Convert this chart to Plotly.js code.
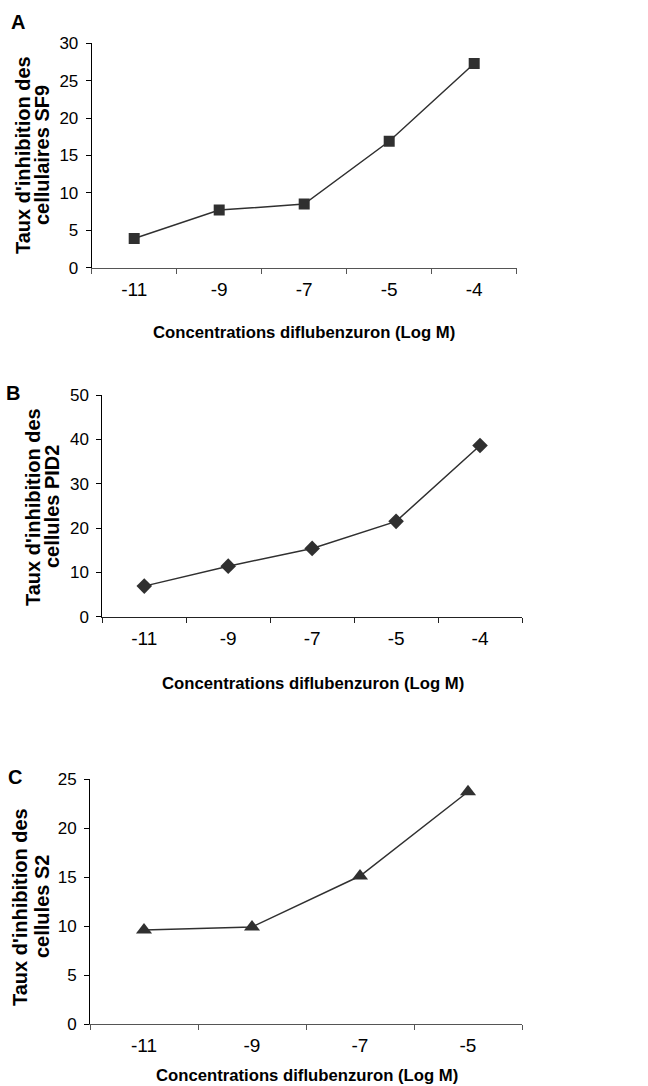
<!DOCTYPE html>
<html>
<head>
<meta charset="utf-8">
<script src="https://cdn.plot.ly/plotly-3.0.1.min.js"></script>
<style>html,body{margin:0;padding:0;background:#fff;}#chart{width:648px;height:1086px;}</style>
</head>
<body>
<div id="chart"></div>
<script>
// ---- data ----
const categoriesAB = ['-11', '-9', '-7', '-5', '-4'];
const categoriesC = ['-11', '-9', '-7', '-5'];
const valuesA = [3.9, 7.7, 8.5, 16.9, 27.3];   // SF9
const valuesB = [6.9, 11.4, 15.4, 21.5, 38.6]; // PID2
const valuesC = [9.6, 9.9, 15.1, 23.7];        // S2
const panelLabels = ['A', 'B', 'C'];
const yTitlesLine1 = ["Taux d'inhibition des", "Taux d'inhibition des", "Taux d'inhibition des"];
const yTitlesLine2 = ['cellulaires SF9', 'cellules PID2', 'cellules S2'];
const xTitle = 'Concentrations diflubenzuron (Log M)';

const W = 648, H = 1086;
const px = v => v / W;
const py = v => 1 - v / H;

const sans = 'Liberation Sans, Arial, sans-serif';
const lineCol = '#303030';

function trace(x, y, sym, size, xa, ya) {
  return {
    x: x, y: y, type: 'scatter', mode: 'lines+markers',
    xaxis: xa, yaxis: ya,
    line: {color: lineCol, width: 1.5},
    marker: {symbol: sym, size: size, color: lineCol},
    showlegend: false, hoverinfo: 'x+y'
  };
}

const data = [
  trace(categoriesAB, valuesA, 'square', 11, 'x', 'y'),
  trace(categoriesAB, valuesB, 'diamond', 12, 'x2', 'y2'),
  trace(categoriesC, valuesC, 'triangle-up', 14, 'x3', 'y3')
];

function xaxis(domain, n, anchor, col) {
  return {
    domain: domain, anchor: anchor, type: 'category',
    range: [-0.5, n - 0.5], tickson: 'boundaries',
    showline: true, linecolor: col, linewidth: 1,
    ticks: 'outside', ticklen: 5, tickcolor: col, tickwidth: 1,
    showgrid: false, zeroline: false, fixedrange: true,
    ticklabelstandoff: 4,
    tickfont: {family: sans, size: 19, color: '#000'}
  };
}
function yaxis(domain, max, dtick, anchor) {
  return {
    domain: domain, anchor: anchor, range: [0, max], dtick: dtick,
    showline: true, linecolor: '#000', linewidth: 1,
    ticks: 'outside', ticklen: 5, tickcolor: '#000',
    showgrid: false, zeroline: false, fixedrange: true,
    ticklabelstandoff: 4,
    tickfont: {family: sans, size: 17, color: '#000'}
  };
}

const ann = [];
// panel letters
[[18, 22], [13, 393], [15, 777]].forEach((p, i) => {
  ann.push({text: '<b>' + panelLabels[i] + '</b>', x: px(p[0]), y: py(p[1]), xref: 'paper', yref: 'paper',
    showarrow: false, xanchor: 'center', yanchor: 'middle', font: {family: sans, size: 20, color: '#000'}});
});
// x titles
[[304, 333], [313, 683], [307, 1075]].forEach(p => {
  ann.push({text: '<b>' + xTitle + '</b>', x: px(p[0]), y: py(p[1]), xref: 'paper', yref: 'paper',
    showarrow: false, xanchor: 'center', yanchor: 'middle', font: {family: sans, size: 16.7, color: '#000'}});
});
// y titles (two lines each)
[[23, 42, 155], [33, 52, 507], [20, 42, 907]].forEach((p, i) => {
  ann.push({text: '<b>' + yTitlesLine1[i] + '</b>', x: px(p[0]), y: py(p[2]), xref: 'paper', yref: 'paper',
    showarrow: false, textangle: -90, xanchor: 'center', yanchor: 'middle', font: {family: sans, size: 20, color: '#000'}});
  ann.push({text: '<b>' + yTitlesLine2[i] + '</b>', x: px(p[1]), y: py(p[2]), xref: 'paper', yref: 'paper',
    showarrow: false, textangle: -90, xanchor: 'center', yanchor: 'middle', font: {family: sans, size: 20, color: '#000'}});
});

const layout = {
  width: W, height: H,
  margin: {l: 0, r: 0, t: 0, b: 0},
  paper_bgcolor: '#fff', plot_bgcolor: '#fff',
  showlegend: false,
  xaxis: xaxis([px(91.7), px(516.7)], categoriesAB.length, 'y', '#555'),
  yaxis: yaxis([py(267.7), py(43.3)], 30, 5, 'x'),
  xaxis2: xaxis([px(102.3), px(522)], categoriesAB.length, 'y2', '#222'),
  yaxis2: yaxis([py(616.7), py(395)], 50, 10, 'x2'),
  xaxis3: xaxis([px(90), px(522)], categoriesC.length, 'y3', '#555'),
  yaxis3: yaxis([py(1024), py(779)], 25, 5, 'x3'),
  annotations: ann
};

Plotly.newPlot('chart', data, layout, {displayModeBar: false, staticPlot: true});
</script>
</body>
</html>
